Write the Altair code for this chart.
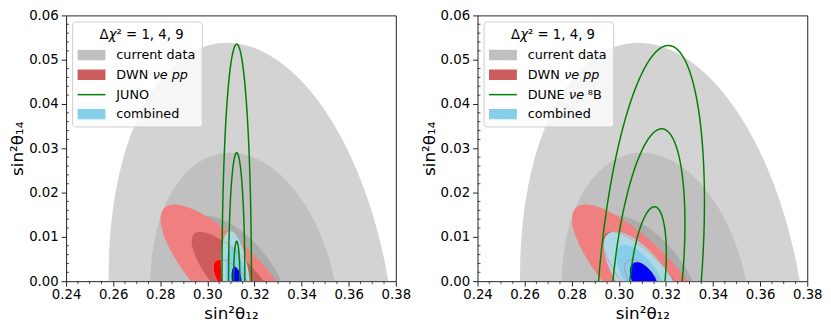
import numpy as np
import pandas as pd
import altair as alt

# ---------------- data ----------------
X_DOMAIN = [0.24, 0.38]
Y_DOMAIN = [0.0, 0.06]
X_TICKS = [0.24, 0.26, 0.28, 0.30, 0.32, 0.34, 0.36, 0.38]
Y_TICKS = [0.00, 0.01, 0.02, 0.03, 0.04, 0.05, 0.06]
X_MINOR = [round(0.24 + 0.005 * k, 3) for k in range(29) if k % 4 != 0]
Y_MINOR = [round(0.002 * k, 3) for k in range(31) if k % 5 != 0]

# Each contour region: centre (cx, cy), half width at y = cy (A),
# half height (B), x shift of the top point from the centre (C).
# Levels ordered Δχ² = 9, 4, 1
grey_cx = [0.31915, 0.31598, 0.3125]
grey_cy = [-0.010, -0.006, 0.0]
grey_A = [0.0601, 0.03969, 0.019]
grey_B = [0.0638, 0.0350, 0.0148]
grey_C = [-0.01085, -0.00628, -0.0135]
grey_colors = ["#d3d3d3", "#c0c0c0", "#ababab"]

red_cx = [0.31125, 0.3125, 0.3105]
red_cy = [0.0, 0.0, 0.0]
red_A = [0.01825, 0.0115, 0.0063]
red_B = [0.0173, 0.0112, 0.0049]
red_C = [-0.02525, -0.0155, -0.0050]
red_colors = ["#f08080", "#cd5c5c", "#ff0000"]

# left panel: JUNO and combined
juno_cx = [0.31245, 0.31245, 0.31245]
juno_cy = [0.0, 0.0, 0.0]
juno_A = [0.00625, 0.00345, 0.00135]
juno_B = [0.0535, 0.0290, 0.0090]
juno_C = [0.0, 0.0, 0.0]

combL_cx = [0.3121, 0.3122, 0.3125]
combL_cy = [0.0, 0.0, 0.0]
combL_A = [0.0059, 0.0042, 0.0021]
combL_B = [0.0113, 0.0078, 0.0033]
combL_C = [-0.0024, -0.0014, -0.0008]

# right panel: DUNE and combined
dune_cx = [0.3132, 0.3122, 0.31215]
dune_cy = [0.0, 0.0, 0.0]
dune_A = [0.0218, 0.0147, 0.00745]
dune_B = [0.0532, 0.0344, 0.0168]
dune_C = [0.0078, 0.0060, 0.00295]

combR_cx = [0.3110, 0.3105, 0.31085]
combR_cy = [0.0, 0.0, 0.0]
combR_A = [0.0122, 0.0083, 0.00525]
combR_B = [0.0112, 0.0082, 0.0043]
combR_C = [-0.0125, -0.0080, -0.0032]
blue_colors = ["#add8e6", "#87ceeb", "#0000ff"]

LEGEND_TITLE = [("Δ", False), ("χ", True), ("² = 1, 4, 9", False)]
legend_colors = ["#c0c0c0", "#cd5c5c", "#008000", "#87ceeb"]

# ---------------- helpers ----------------
W, H = 335, 270
FONT = "DejaVu Sans"

X_AXIS = alt.Axis(values=X_TICKS, format=".2f", title="sin²θ₁₂", grid=False,
                  domain=False, tickSize=5, tickColor="#222", labelPadding=2,
                  labelFontSize=13.5, labelFont=FONT, labelColor="black",
                  labelFlush=False, labelOverlap=False,
                  titleFont=FONT, titleFontSize=17, titleFontWeight="normal",
                  titleColor="black", titleY=38, titleBaseline="alphabetic")
Y_AXIS = alt.Axis(values=Y_TICKS, format=".2f", title="sin²θ₁₄", grid=False,
                  domain=False, tickSize=5, tickColor="#222", labelPadding=3,
                  labelFontSize=13.5, labelFont=FONT, labelColor="black",
                  labelFlush=False, labelOverlap=False,
                  titleFont=FONT, titleFontSize=17, titleFontWeight="normal",
                  titleColor="black", titleX=-49, titleBaseline="middle")


def xenc(field):
    return alt.X(f"{field}:Q", scale=alt.Scale(domain=X_DOMAIN, nice=False, zero=False), axis=X_AXIS)


def yenc(field):
    return alt.Y(f"{field}:Q", scale=alt.Scale(domain=Y_DOMAIN, nice=False, zero=False), axis=Y_AXIS)


def ell_area(cx, cy, A, B, C, n=240):
    s0 = max(-1.0, -cy / B)
    t = np.linspace(np.arcsin(s0), np.pi / 2, n)
    s = np.sin(t)
    half = A * np.sqrt(np.clip(1 - s * s, 0, None))
    return pd.DataFrame({"y": cy + B * s, "xl": cx + C * s - half, "xr": cx + C * s + half})


def ell_line(cx, cy, A, B, C, n=360):
    s0 = max(-1.0, -cy / B)
    t0 = np.arcsin(s0)
    t = np.linspace(t0, np.pi - t0, n)
    return pd.DataFrame({"i": np.arange(n),
                         "x": cx + A * np.cos(t) + C * np.sin(t),
                         "y": cy + B * np.sin(t)})


def area_layer(p, color):
    return alt.Chart(ell_area(*p)).mark_area(orient="horizontal", color=color, clip=True).encode(
        y=yenc("y"), x=xenc("xl"), x2="xr:Q")


def line_layer(p, color, width, opacity=1.0):
    return alt.Chart(ell_line(*p)).mark_line(color=color, strokeWidth=width, opacity=opacity,
                                             clip=True).encode(
        x=xenc("x"), y=yenc("y"), order="i:Q")


ONE = pd.DataFrame({"k": [0]})


def txt(s, x, y, italic=False, align="left", size=13):
    return alt.Chart(ONE).mark_text(text=s, font=FONT, fontSize=size, align=align, baseline="middle",
                                    fontStyle="italic" if italic else "normal", color="black").encode(
        x=alt.value(x), y=alt.value(y))


def legend(label_parts):
    L = []
    L.append(alt.Chart(ONE).mark_rect(fill="white", fillOpacity=0.8, stroke="#cccccc", strokeWidth=1,
                                      cornerRadius=3).encode(
        x=alt.value(6.7), x2=alt.value(138.4), y=alt.value(6.7), y2=alt.value(113.3)))
    # legend title pieces (Δ, italic χ, rest)
    tx = [34.0, 43.3, 51.3]
    for (s, it), xx in zip(LEGEND_TITLE, tx):
        L.append(txt(s, xx, 20, italic=it, size=13.5))
    rows = [40.3, 60.3, 80.5, 100.3]
    for i, (yy, col) in enumerate(zip(rows, legend_colors)):
        if i == 2:
            L.append(alt.Chart(ONE).mark_rule(color=col, strokeWidth=1.5).encode(
                x=alt.value(11.7), x2=alt.value(40), y=alt.value(yy)))
        else:
            L.append(alt.Chart(ONE).mark_rect(fill=col).encode(
                x=alt.value(11.7), x2=alt.value(40), y=alt.value(yy - 5.3), y2=alt.value(yy + 5.3)))
        for (s, xx, it) in label_parts[i]:
            L.append(txt(s, xx, yy, italic=it))
    return L


def params(cx, cy, A, B, C):
    return list(zip(cx, cy, A, B, C))


def panel(green, comb, label_parts):
    layers = []
    for p, c in zip(params(grey_cx, grey_cy, grey_A, grey_B, grey_C), grey_colors):
        layers.append(area_layer(p, c))
    reds = params(red_cx, red_cy, red_A, red_B, red_C)
    for p, c in zip(reds, red_colors):
        layers.append(area_layer(p, c))
    for p, c in zip(comb, blue_colors):
        layers.append(area_layer(p, c))
    for p in reds[1:]:
        layers.append(line_layer(p, "#e08a8a", 1.0, 0.9))
    for p in green:
        layers.append(line_layer(p, "#008000", 1.5))
    # minor ticks
    layers.append(alt.Chart(pd.DataFrame({"v": X_MINOR})).mark_rule(color="#222", strokeWidth=0.8).encode(
        x=xenc("v"), y=alt.value(H), y2=alt.value(H + 3)))
    layers.append(alt.Chart(pd.DataFrame({"v": Y_MINOR})).mark_rule(color="#222", strokeWidth=0.8).encode(
        y=yenc("v"), x=alt.value(0), x2=alt.value(3)))
    layers += legend(label_parts)
    return alt.layer(*layers).properties(width=W, height=H)


left_labels = [
    [("current data", 51, False)],
    [("DWN", 51, False), ("νe pp", 88, True)],
    [("JUNO", 51, False)],
    [("combined", 51, False)],
]
right_labels = [
    [("current data", 51, False)],
    [("DWN", 51, False), ("νe pp", 88, True)],
    [("DUNE", 51, False), ("νe", 93, True), ("⁸B", 112, False)],
    [("combined", 51, False)],
]

left = panel(params(juno_cx, juno_cy, juno_A, juno_B, juno_C),
             params(combL_cx, combL_cy, combL_A, combL_B, combL_C), left_labels)
right = panel(params(dune_cx, dune_cy, dune_A, dune_B, dune_C),
              params(combR_cx, combR_cy, combR_A, combR_B, combR_C), right_labels)

chart = alt.hconcat(left, right, spacing=83, bounds="flush").properties(
    padding={"left": 0, "top": -3, "right": 0, "bottom": 0}
).configure_view(stroke="#222", strokeWidth=1)

chart.save("out.html", embed_options={"renderer": "svg", "actions": False})
